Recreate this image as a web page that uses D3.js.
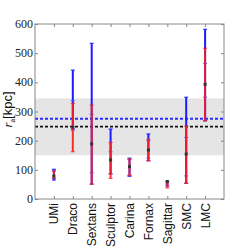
<!DOCTYPE html>
<html>
<head>
<meta charset="utf-8">
<script src="https://cdn.jsdelivr.net/npm/d3@7"></script>
<style>
  body { margin: 0; background: #fff; }
</style>
</head>
<body>
<script>
// galaxy names along the x axis
var galaxies = ["UMi", "Draco", "Sextans", "Sculptor", "Carina", "Fornax", "Sagittar", "SMC", "LMC"];

// blue ranges (kpc)
var blueLo = [65, 240, 51, 86, 78, 131, 45, 54, 268];
var blueHi = [102, 442, 534, 240, 140, 223, 60, 349, 582];
// inner blue caps (mostly hidden under the red bars)
var innerLo = [70, 236, 90, 86, 82, 140, null, 79, 349];
var innerHi = [98, 337, 291, 162, 135, 200, null, 211, 465];
// red ranges (kpc)
var redLo = [72, 162, 51, 71, 80, 131, 38, 54, 268];
var redHi = [95, 328, 322, 194, 137, 205, 52, 250, 517];
// central values
var centre = [79, 246, 189, 134, 111, 168, 60, 154, 393];

// reference levels
var bandLo = 150, bandHi = 345;
var blueLevel = 275, blackLevel = 248;
var yTicks = [0, 100, 200, 300, 400, 500, 600];

window.onload = function(){

    var w = 249, h = 249;
    var pLeft = 35, pRight = 224, pTop = 24, pBottom = 199;

    var svg = d3.select("body").append("svg")
        .attr("width", w)
        .attr("height", h);

    var x = d3.scaleLinear().domain([-1, 9]).range([pLeft, pRight]);
    var y = d3.scaleLinear().domain([0, 600]).range([pBottom, pTop]);

    // shaded band
    svg.append("rect")
        .attr("x", pLeft)
        .attr("width", pRight - pLeft)
        .attr("y", y(bandHi))
        .attr("height", y(bandLo) - y(bandHi))
        .style("fill", "#e5e5e5");

    // dashed reference lines
    svg.append("line")
        .attr("x1", pLeft).attr("x2", pRight)
        .attr("y1", y(blueLevel)).attr("y2", y(blueLevel))
        .style("stroke", "#2b2bff").style("stroke-width", 2)
        .style("stroke-dasharray", "3,2");
    svg.append("line")
        .attr("x1", pLeft).attr("x2", pRight)
        .attr("y1", y(blackLevel)).attr("y2", y(blackLevel))
        .style("stroke", "#111").style("stroke-width", 1.6)
        .style("stroke-dasharray", "3,2");

    var idx = d3.range(galaxies.length);

    // draws a vertical error bar with small caps
    function errbar(lo, hi, color, width, op, cls, capsOnly){
        var g = svg.append("g").attr("class", cls).style("opacity", op);
        var ok = idx.filter(function(i){ return lo[i] != null; });
        if (!capsOnly) {
            g.selectAll("line.bar").data(ok).enter().append("line")
                .attr("class", "bar")
                .attr("x1", function(i){ return x(i); })
                .attr("x2", function(i){ return x(i); })
                .attr("y1", function(i){ return y(lo[i]); })
                .attr("y2", function(i){ return y(hi[i]); })
                .style("stroke", color).style("stroke-width", width);
        }
        var caps = [];
        ok.forEach(function(i){ caps.push([i, lo[i]]); caps.push([i, hi[i]]); });
        g.selectAll("line.cap").data(caps).enter().append("line")
            .attr("class", "cap")
            .attr("x1", function(d){ return x(d[0]) - 2; })
            .attr("x2", function(d){ return x(d[0]) + 2; })
            .attr("y1", function(d){ return y(d[1]); })
            .attr("y2", function(d){ return y(d[1]); })
            .style("stroke", color).style("stroke-width", 1);
    }

    errbar(blueLo, blueHi, "#1a1aff", 2, 1, "blue", false);
    errbar(innerLo, innerHi, "#5a5aff", 2, 1, "inner", true);
    errbar(redLo, redHi, "#ff1a1a", 2, 0.9, "red", false);

    // central points
    svg.selectAll(".pt").data(idx).enter().append("rect")
        .attr("class", "pt")
        .attr("x", function(i){ return x(i) - 1.5; })
        .attr("y", function(i){ return y(centre[i]) - 1.5; })
        .attr("width", 3).attr("height", 3)
        .style("fill", "#333");

    // frame
    svg.append("rect")
        .attr("x", pLeft).attr("y", pTop)
        .attr("width", pRight - pLeft).attr("height", pBottom - pTop)
        .style("fill", "none").style("stroke", "#888").style("stroke-width", 1);

    // inward ticks on all four sides
    var yAxis = svg.append("g")
        .attr("transform", "translate(" + pLeft + ",0)")
        .call(d3.axisLeft(y).tickValues(yTicks).tickSize(-3).tickFormat(""));
    var yRight = svg.append("g")
        .attr("transform", "translate(" + pRight + ",0)")
        .call(d3.axisRight(y).tickValues(yTicks).tickSize(-3).tickFormat(""));
    var xAxis = svg.append("g")
        .attr("transform", "translate(0," + pBottom + ")")
        .call(d3.axisBottom(x).tickValues(idx).tickSize(-3).tickFormat(""));
    var xTop = svg.append("g")
        .attr("transform", "translate(0," + pTop + ")")
        .call(d3.axisTop(x).tickValues(idx).tickSize(-3).tickFormat(""));
    [yAxis, yRight, xAxis, xTop].forEach(function(a){
        a.select(".domain").remove();
        a.selectAll("line").style("stroke", "#888");
    });

    // y tick labels
    svg.selectAll(".ylab").data(yTicks).enter().append("text")
        .attr("class", "ylab")
        .attr("x", pLeft - 2)
        .attr("y", function(d){ return y(d) + 4; })
        .attr("text-anchor", "end")
        .style("font-family", "'Liberation Serif', 'DejaVu Serif', serif")
        .style("font-size", "12px")
        .style("fill", "#222")
        .text(function(d){ return d; });

    // rotated galaxy names
    svg.selectAll(".name").data(idx).enter().append("text")
        .attr("class", "name")
        .attr("transform", function(i){ return "translate(" + (x(i) + 4.5) + "," + (pBottom + 4) + ") rotate(-90)"; })
        .attr("text-anchor", "end")
        .style("font-family", "'Liberation Sans', Arial, sans-serif")
        .style("font-size", "12px")
        .style("fill", "#111")
        .text(function(i){ return galaxies[i]; });

    // y axis label
    var ylab = svg.append("text")
        .attr("transform", "translate(12," + ((pTop + pBottom) / 2 - 2) + ") rotate(-90)")
        .attr("text-anchor", "middle")
        .style("font-size", "13px")
        .style("fill", "#111");
    ylab.append("tspan")
        .style("font-family", "'Liberation Serif', serif")
        .style("font-style", "italic")
        .text("r");
    ylab.append("tspan")
        .attr("dy", 3)
        .style("font-family", "'Liberation Serif', serif")
        .style("font-size", "8px")
        .text("a");
    ylab.append("tspan")
        .attr("dy", -3)
        .style("font-family", "'Liberation Sans', sans-serif")
        .text("[kpc]");
};
</script>
</body>
</html>
